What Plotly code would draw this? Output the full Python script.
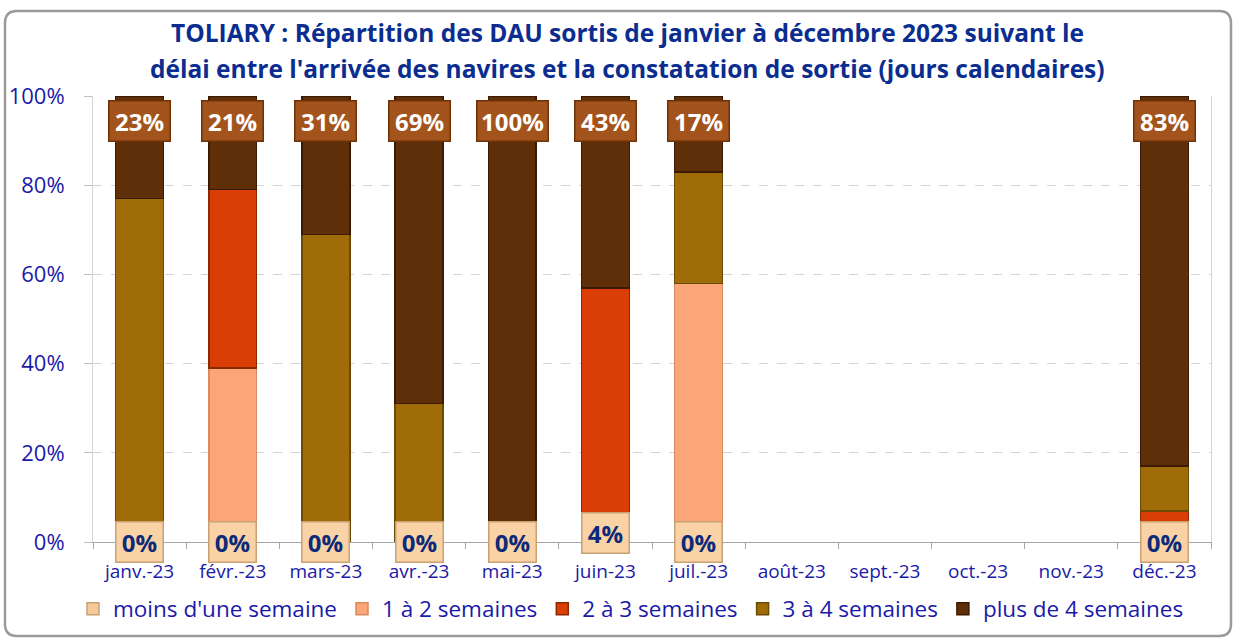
import plotly.graph_objects as go

cats = ['janv.-23', 'févr.-23', 'mars-23', 'avr.-23', 'mai-23', 'juin-23',
        'juil.-23', 'août-23', 'sept.-23', 'oct.-23', 'nov.-23', 'déc.-23']
series_names = ["moins d'une semaine", "1 à 2 semaines", "2 à 3 semaines",
                "3 à 4 semaines", "plus de 4 semaines"]
moins_1 = [0, 0, 0, 0, 0, 4, 0, None, None, None, None, 0]
s1_2 = [0, 39, 0, 0, 0, 0, 58, None, None, None, None, 0]
s2_3 = [0, 40, 0, 0, 0, 53, 0, None, None, None, None, 7]
s3_4 = [77, 0, 69, 31, 0, 0, 25, None, None, None, None, 10]
plus_4 = [23, 21, 31, 69, 100, 43, 17, None, None, None, None, 83]
title_lines = ["TOLIARY : Répartition des DAU sortis de janvier à décembre 2023 suivant le",
               "délai entre l'arrivée des navires et la constatation de sortie (jours calendaires)"]

colors = ['#f6c998', '#fba578', '#db3d06', '#a06c08', '#5e2f08']
edge = ['#c8a070', '#d98a60', '#8a2a00', '#6b4a05', '#3a1a02']

FONT = "Open Sans, sans-serif"
BLUE = '#1a1aa8'
NAVY = '#0d2a7a'

W, H = 1240, 641
L, R, T, B = 93, 29, 96, 99
pw, ph = W - L - R, H - T - B
def px(x):
    return (x - L) / pw
def py(y):
    return (H - B - y) / ph

fig = go.Figure()
for name, vals, c, e in zip(series_names, [moins_1, s1_2, s2_3, s3_4, plus_4], colors, edge):
    fig.add_trace(go.Bar(
        x=cats, y=[None if v is None else v / 100 for v in vals], name=name,
        marker=dict(color=c, line=dict(color=e, width=1.5)),
        hoverinfo='x+y+name'))

annotations = []
for c, v in zip(cats, moins_1):
    if v is None:
        continue
    annotations.append(dict(
        x=c, y=v / 200, xref='x', yref='y', text=f"<b>{v}%</b>", showarrow=False,
        font=dict(family=FONT, size=24, color=NAVY), bgcolor='#f9d3a6',
        bordercolor='#c9a173', borderwidth=1.5, borderpad=3, yanchor='middle',
        width=40))
for c, v in zip(cats, plus_4):
    if v is None:
        continue
    annotations.append(dict(
        x=c, y=1, xref='x', yref='y', text=f"<b>{v}%</b>", showarrow=False,
        font=dict(family=FONT, size=24, color='white'), bgcolor='#a3531c',
        bordercolor='#6e3208', borderwidth=1.5, borderpad=3, yanchor='top', yshift=-4,
        width=54 if v < 100 else 64))

for line, yc in zip(title_lines, [33, 68]):
    annotations.append(dict(
        x=px(627), y=py(yc), xref='paper', yref='paper', yanchor='middle',
        text=f"<b>{line}</b>", showarrow=False,
        font=dict(family=FONT, size=24.5, color='#0a2d8f')))

x0, x1, y0, y1, r = 5, 1231, 11, 636, 12
path = (f"M {px(x0 + r)} {py(y0)} L {px(x1 - r)} {py(y0)} "
        f"Q {px(x1)} {py(y0)} {px(x1)} {py(y0 + r)} L {px(x1)} {py(y1 - r)} "
        f"Q {px(x1)} {py(y1)} {px(x1 - r)} {py(y1)} L {px(x0 + r)} {py(y1)} "
        f"Q {px(x0)} {py(y1)} {px(x0)} {py(y1 - r)} L {px(x0)} {py(y0 + r)} "
        f"Q {px(x0)} {py(y0)} {px(x0 + r)} {py(y0)} Z")
shapes = [
    dict(type='path', xref='paper', yref='paper', path=path,
         line=dict(color='#9a9a9a', width=2.5), layer='below'),
]

fig.update_layout(
    width=W, height=H, barmode='stack', bargap=0.485,
    margin=dict(l=L, r=R, t=T, b=B, autoexpand=False),
    paper_bgcolor='white', plot_bgcolor='white',
    font=dict(family=FONT, color=BLUE),
    showlegend=True,
    legend=dict(orientation='h', xref='container', x=631 / W, xanchor='center',
                yref='container', y=1 - 609 / H, yanchor='middle',
                font=dict(family=FONT, size=22.5, color=BLUE), itemwidth=30,
                traceorder='normal', bgcolor='rgba(0,0,0,0)'),
    annotations=annotations, shapes=shapes,
    xaxis=dict(type='category', showline=True, linecolor='#a6a6a6', linewidth=1,
               ticks='outside', tickson='boundaries', ticklen=6, tickcolor='#a6a6a6',
               tickfont=dict(family=FONT, size=19, color=BLUE), showgrid=False,
               ticklabelstandoff=12),
    yaxis=dict(range=[0, 1], dtick=0.2, tickformat='.0%', showgrid=True,
               gridcolor='#d4d4d4', griddash='dash', gridwidth=1,
               showline=True, mirror=True, linecolor='#d4d4d4',
               tickfont=dict(family=FONT, size=22, color=BLUE), zeroline=False,
               ticks='outside', ticklen=8, tickcolor='#bfbfbf', ticklabelstandoff=15),
)

fig.write_html("out.html", config={'displayModeBar': False},
               post_script="document.body.style.margin='0px';document.body.style.overflow='hidden';")
